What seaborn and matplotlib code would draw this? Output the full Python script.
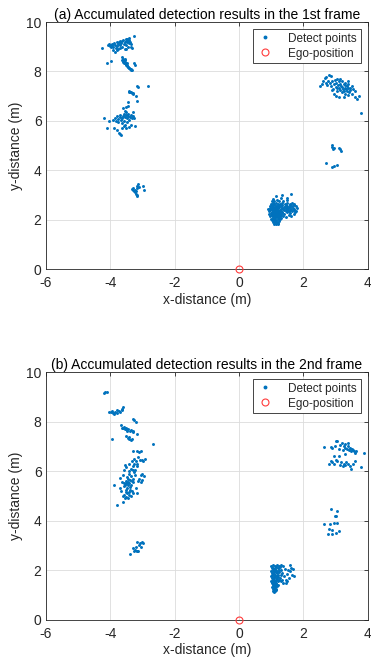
import matplotlib
matplotlib.use("Agg")
import matplotlib.pyplot as plt
import seaborn as sns
import pandas as pd
from matplotlib.lines import Line2D

# ---------------- data: panel (a) ----------------
a_c1 = [(-4.25,8.93),(-3.25,9.42),(-4.05,9.05),(-4.02,9.1),(-3.98,9.0),(-3.95,9.12),(-3.93,9.05),
        (-3.9,8.98),(-3.88,9.15),(-3.85,9.08),(-3.83,8.95),(-3.8,9.2),(-3.78,9.02),(-3.75,9.1),
        (-3.72,9.18),(-3.7,9.25),(-3.68,9.05),(-3.65,9.15),(-3.62,9.22),(-3.6,9.28),(-3.58,9.1),
        (-3.55,9.2),(-3.52,9.3),(-3.5,9.25),(-3.48,9.18),(-3.46,9.32),(-3.44,9.22),(-3.42,9.15),
        (-3.4,9.27),(-3.38,9.2),(-3.36,9.1),(-3.35,9.0),(-3.32,8.95),(-3.9,8.85),(-3.85,8.8),
        (-3.8,8.85),(-3.75,8.9),(-3.7,8.95),(-3.55,8.9),(-3.5,9.05),(-3.45,9.0),(-4.0,9.02),
        (-3.97,9.08),(-3.62,9.0),(-3.4,9.35),(-3.5,8.92)]
a_c2 = [(-3.62,8.58),(-3.6,8.52),(-3.58,8.48),(-3.57,8.42),(-3.55,8.45),(-3.55,8.38),(-3.53,8.35),
        (-3.52,8.3),(-3.5,8.32),(-3.5,8.25),(-3.48,8.28),(-3.46,8.22),(-3.45,8.18),(-3.43,8.2),
        (-3.42,8.15),(-3.4,8.12),(-3.38,8.1),(-3.36,8.08),(-3.35,8.05),(-3.33,8.04),(-3.6,8.4),
        (-3.58,8.35),(-3.54,8.5),(-3.47,8.35),(-3.26,8.36),(-3.24,8.26),(-4.1,8.35),(-3.98,8.44),
        (-3.63,8.46)]
a_c3 = [(-3.42,7.18),(-3.4,7.2),(-3.38,7.16),(-3.36,7.18),(-3.33,7.14),(-3.3,7.12),(-3.28,7.1),
        (-3.15,7.42),(-3.14,7.38),(-2.82,7.42),(-3.2,7.0),(-3.15,6.82),(-3.45,6.78),(-3.5,6.58)]
a_c4 = [(-4.2,6.1),(-4.1,5.72),(-4.02,5.98),(-3.88,5.72),(-3.78,5.62),(-3.72,5.52),(-3.7,5.48),
        (-3.65,5.45),(-3.9,6.05),(-3.85,6.12),(-3.82,6.0),(-3.8,6.18),(-3.76,6.08),(-3.74,5.95),
        (-3.7,6.15),(-3.68,6.25),(-3.66,6.05),(-3.64,5.9),(-3.62,6.1),(-3.6,6.2),(-3.58,6.3),
        (-3.56,6.0),(-3.55,5.85),(-3.53,6.15),(-3.5,6.25),(-3.5,6.38),(-3.48,6.1),(-3.46,5.95),
        (-3.45,6.3),(-3.43,6.2),(-3.42,5.75),(-3.4,6.05),(-3.38,6.15),(-3.36,6.25),(-3.35,5.85),
        (-3.33,6.1),(-3.3,6.2),(-3.28,6.38),(-3.25,6.12),(-3.22,5.78),(-3.6,6.52),(-3.55,6.42),
        (-3.62,5.72),(-3.58,5.78),(-3.5,5.72),(-3.45,6.62)]
a_c5 = [(-3.32,3.25),(-3.3,3.3),(-3.28,3.22),(-3.26,3.18),(-3.24,3.2),(-3.22,3.12),(-3.2,3.15),
        (-3.19,3.05),(-3.17,3.0),(-3.15,2.97),(-3.16,3.38),(-3.12,3.45),(-3.1,3.32),(-2.97,3.38),
        (-2.96,3.22),(-3.18,3.3)]
a_c6 = [(1.1,1.82),(1.15,1.85),(1.2,1.84),(1.12,1.9),(1.18,1.92),(1.22,1.88),(1.05,1.93),(1.25,1.95),
        (1.0,2.05),(1.03,2.0),(1.07,2.08),(1.1,2.02),(1.13,2.06),(1.16,2.0),(1.2,2.04),(1.24,2.08),
        (1.28,2.02),(1.32,2.06),(1.45,2.1),(1.62,2.15),
        (0.98,2.15),(1.02,2.18),(1.05,2.12),(1.08,2.2),(1.11,2.14),(1.14,2.17),(1.17,2.11),(1.2,2.19),
        (1.23,2.13),(1.27,2.16),(1.3,2.2),(1.36,2.14),(1.55,2.2),(1.7,2.22),
        (0.95,2.25),(1.0,2.28),(1.03,2.22),(1.06,2.3),(1.09,2.24),(1.12,2.27),(1.15,2.22),(1.18,2.29),
        (1.21,2.25),(1.24,2.3),(1.28,2.23),(1.33,2.27),(1.4,2.25),(1.5,2.3),(1.6,2.28),(1.75,2.3),
        (0.93,2.35),(0.98,2.38),(1.02,2.32),(1.05,2.4),(1.08,2.34),(1.11,2.37),(1.14,2.31),(1.17,2.39),
        (1.2,2.35),(1.23,2.33),(1.27,2.4),(1.31,2.36),(1.35,2.32),(1.4,2.38),(1.45,2.34),(1.5,2.4),
        (1.55,2.36),(1.6,2.39),(1.66,2.35),(1.72,2.4),(1.78,2.37),
        (0.9,2.45),(0.96,2.48),(1.0,2.42),(1.04,2.5),(1.07,2.44),(1.1,2.47),(1.13,2.41),(1.16,2.49),
        (1.19,2.43),(1.22,2.46),(1.26,2.5),(1.3,2.44),(1.34,2.48),(1.38,2.42),(1.42,2.5),(1.46,2.45),
        (1.5,2.48),(1.54,2.42),(1.58,2.5),(1.62,2.45),(1.67,2.48),(1.72,2.43),(1.8,2.47),
        (0.97,2.55),(1.02,2.58),(1.06,2.52),(1.1,2.6),(1.14,2.54),(1.18,2.57),(1.22,2.52),(1.26,2.6),
        (1.3,2.55),(1.35,2.58),(1.4,2.53),(1.45,2.6),(1.5,2.56),(1.55,2.53),(1.6,2.6),(1.65,2.55),
        (1.7,2.58),(1.76,2.54),
        (1.0,2.65),(1.05,2.68),(1.1,2.63),(1.15,2.7),(1.2,2.66),(1.28,2.64),(1.35,2.7),(1.42,2.66),
        (1.5,2.68),(1.58,2.63),(1.65,2.7),(1.72,2.65),
        (1.02,2.78),(1.1,2.75),(1.18,2.82),(1.25,2.78),(1.38,2.75),(1.5,2.8),(1.05,2.85),(1.3,2.88),
        (1.5,2.9),(1.35,3.0),(1.62,3.05),(1.15,2.95),
        (1.08,2.26),(1.12,2.33),(1.06,2.36),(1.1,2.42),(1.15,2.45),(1.04,2.18),(1.09,2.1),(1.13,2.24),
        (1.16,2.34),(1.19,2.2),(1.07,2.0),(1.11,1.96),(1.14,2.52),(1.02,2.44),(1.2,2.4)]
a_c7 = [(2.52,7.41),(2.58,7.5),(2.62,7.6),(2.68,7.72),(2.72,7.78),(2.8,7.85),(2.85,7.82),(2.7,7.55),
        (2.75,7.45),(2.78,7.62),(2.82,7.52),(2.85,7.4),(2.9,7.6),(2.92,7.3),(2.95,7.48),(2.98,7.65),
        (3.0,7.38),(3.02,7.55),(3.05,7.2),(3.05,7.7),(3.08,7.45),(3.1,7.32),(3.12,7.6),(3.15,7.25),
        (3.15,7.5),(3.18,7.4),(3.2,7.15),(3.2,7.62),(3.22,7.3),(3.25,7.48),(3.25,7.22),(3.28,7.35),
        (3.3,7.55),(3.3,7.1),(3.32,7.28),(3.35,7.42),(3.35,7.2),(3.38,7.32),(3.4,7.5),(3.42,7.15),
        (3.45,7.35),(3.45,7.25),(3.5,7.4),(3.5,7.1),(3.55,7.3),(3.6,7.2),(3.62,6.95),(3.68,6.9),
        (3.72,7.0),(3.1,6.95),(3.0,7.0),(2.95,7.1),(3.25,6.95),(3.4,7.6),(3.15,7.7),(2.88,7.25),
        (3.05,7.35),(3.28,7.45),(3.38,7.05),(3.2,7.38),(3.78,6.33)]
a_c8 = [(2.88,5.02),(2.9,4.95),(2.93,4.88),(2.95,4.92),(3.1,4.9),(3.14,4.85),(3.17,4.8),
        (2.7,4.3),(2.9,4.15),(2.95,4.18),(3.05,4.22)]

# ---------------- data: panel (b) ----------------
b_c1 = [(-4.15,9.18),(-4.1,9.2),(-4.19,9.16)]
b_c2 = [(-4.02,8.4),(-3.98,8.38),(-3.95,8.42),(-3.9,8.35),(-3.85,8.4),(-3.8,8.45),(-3.78,8.35),
        (-3.72,8.42),(-3.68,8.38),(-3.62,8.48),(-3.6,8.6),(-3.62,8.52),(-3.88,8.3)]
b_c3 = [(-3.65,7.85),(-3.62,7.75),(-3.6,7.72),(-3.58,7.78),(-3.55,7.7),(-3.52,7.68),(-3.5,7.75),
        (-3.48,7.62),(-3.45,7.7),(-3.38,7.6),(-3.35,7.65),(-3.3,7.58),(-3.28,8.12),(-3.25,8.05),
        (-3.2,7.98),(-3.15,7.5),(-3.5,7.4),(-3.45,7.35),(-3.42,7.3),(-3.4,7.38),(-3.35,7.25),
        (-3.32,7.3),(-3.95,7.28),(-3.3,7.6)]
b_c4 = [(-3.88,5.45),(-3.78,4.65),(-3.7,5.3),(-3.68,5.72),(-3.65,5.2),(-3.62,5.55),(-3.6,4.75),
        (-3.6,5.85),(-3.58,5.05),(-3.56,5.4),(-3.55,4.9),(-3.55,6.25),(-3.52,5.6),(-3.5,4.95),
        (-3.5,5.5),(-3.5,6.15),(-3.48,5.3),(-3.47,5.75),(-3.45,4.9),(-3.45,5.45),(-3.44,5.55),
        (-3.42,5.15),(-3.42,6.0),(-3.4,5.5),(-3.4,5.9),(-3.4,6.3),(-3.38,5.25),(-3.38,5.65),
        (-3.36,5.0),(-3.35,5.45),(-3.35,6.1),(-3.34,5.8),(-3.32,5.2),(-3.32,6.4),(-3.3,5.55),
        (-3.3,6.2),(-3.3,6.8),(-3.28,5.1),(-3.28,5.7),(-3.27,6.3),(-3.25,5.95),(-3.25,6.5),
        (-3.22,6.05),(-3.2,5.3),(-3.2,6.4),(-3.18,6.2),(-3.15,5.1),(-3.15,6.3),(-3.15,6.8),
        (-3.12,5.6),(-3.12,6.55),(-3.1,5.7),(-3.1,6.78),(-3.08,6.45),(-3.05,5.55),(-3.05,5.85),
        (-3.05,6.8),(-3.02,5.65),(-3.0,5.9),(-3.0,6.45),(-2.98,6.4),(-2.95,5.8),(-2.92,6.5),
        (-2.68,7.08),(-3.6,5.0),(-3.58,5.5),(-3.54,5.45),(-3.46,5.5),(-3.52,5.15),(-3.4,5.05),
        (-3.37,5.35),(-3.43,5.7),(-3.5,5.25),(-3.33,5.6),(-3.47,5.1),(-3.28,6.05),(-3.22,5.85),
        (-3.58,6.05)]
b_c5 = [(-3.38,2.65),(-3.28,2.9),(-3.22,2.8),(-3.2,2.95),(-3.18,2.78),(-3.15,3.15),(-3.12,2.78),
        (-3.1,3.0),(-3.08,3.1),(-3.05,2.95),(-3.02,3.12),(-2.98,3.1),(-3.15,2.78),(-3.25,2.78)]
b_c6 = [(1.1,1.1),(1.12,1.15),(1.08,1.2),(1.14,1.18),(1.06,1.25),(1.1,1.28),(1.15,1.25),(1.03,1.32),
        (1.08,1.35),(1.12,1.32),(1.17,1.36),(1.05,1.4),(1.1,1.42),(1.14,1.45),(1.2,1.4),(1.02,1.48),
        (1.07,1.5),(1.12,1.52),(1.16,1.5),(1.22,1.55),(1.0,1.58),(1.05,1.6),(1.09,1.62),(1.13,1.58),
        (1.18,1.64),(1.25,1.6),(1.02,1.68),(1.06,1.7),(1.1,1.72),(1.15,1.68),(1.2,1.72),(1.27,1.7),
        (1.0,1.78),(1.04,1.8),(1.08,1.76),(1.12,1.82),(1.17,1.78),(1.22,1.82),(1.3,1.8),(1.02,1.88),
        (1.06,1.9),(1.1,1.86),(1.14,1.92),(1.19,1.88),(1.25,1.92),(1.0,1.98),(1.05,2.0),(1.09,1.96),
        (1.13,2.02),(1.18,1.98),(1.24,2.02),(1.3,2.0),(1.02,2.08),(1.07,2.1),(1.11,2.06),(1.16,2.12),
        (1.21,2.08),(1.27,2.12),(1.0,2.18),(1.05,2.2),(1.12,2.16),(1.18,2.2),(1.25,2.18),(1.08,1.45),
        (1.1,1.55),(1.07,1.65),(1.11,1.75),(1.08,1.85),(1.12,1.95),(1.09,2.05),(1.06,1.15),(1.13,1.38),
        (1.04,1.52),(1.16,1.62),
        (1.3,1.55),(1.35,1.62),(1.38,1.5),(1.4,1.75),(1.45,1.6),(1.48,1.85),(1.5,1.55),(1.52,2.0),
        (1.55,1.7),(1.58,2.2),(1.6,1.95),(1.62,2.1),(1.65,1.82),(1.68,2.05),(1.7,1.75),(1.35,1.9),
        (1.42,2.05),(1.3,2.2),(1.38,2.15),(1.45,1.5)]
b_c7 = [(2.64,6.98),(2.85,6.98),(2.9,6.95),(2.95,6.6),(2.98,7.0),(3.0,7.22),(3.05,7.2),(3.1,6.9),
        (3.15,7.05),(3.2,7.15),(3.22,6.85),(3.25,7.0),(3.28,6.95),(3.3,7.1),(3.35,6.9),(3.38,7.15),
        (3.4,7.0),(3.42,6.85),(3.45,6.95),(3.48,6.8),(3.5,6.9),(3.55,6.85),(3.58,6.8),(3.6,6.75),
        (3.65,6.8),(3.9,6.72),(2.8,6.3),(2.85,6.4),(2.9,6.35),(2.95,6.3),(3.0,6.45),(3.05,6.4),
        (3.15,6.25),(3.18,6.35),(3.22,6.2),(3.25,6.3),(3.3,6.25),(3.32,6.35),(3.38,6.3),(3.45,6.22),
        (3.48,6.1),(3.55,6.3),(3.6,6.4),(3.8,6.18),(3.3,6.7),(3.12,6.6)]
b_c8 = [(2.85,4.45),(3.05,4.38),(2.98,4.18),(3.02,4.2),(2.65,3.85),(2.82,3.85),(2.95,3.9),
        (3.05,3.92),(2.8,3.65),(2.88,3.62),(3.1,3.6),(2.78,3.45),(2.88,3.45),(3.02,3.5)]

panel_a = [a_c1, a_c2, a_c3, a_c4, a_c5, a_c6, a_c7, a_c8]
panel_b = [b_c1, b_c2, b_c3, b_c4, b_c5, b_c6, b_c7, b_c8]
titles = ["(a) Accumulated detection results in the 1st frame",
          "(b) Accumulated detection results in the 2nd frame"]
ego_x, ego_y = [0.0], [0.0]
x_ticks = [-6, -4, -2, 0, 2, 4]
y_ticks = [0, 2, 4, 6, 8, 10]
legend_labels = ["Detect points", "Ego-position"]

# ---------------- styling ----------------
sns.set_theme(style="white")
plt.rcParams['font.family'] = ['Liberation Sans', 'DejaVu Sans']
plt.rcParams['axes.unicode_minus'] = False

BLUE = "#0072BD"
AX_COL = "#262626"
W, H = 371, 661
fig = plt.figure(figsize=(W/100, H/100), dpi=100)
positions = [[45.7/W, 1-269.3/H, 322/W, 247.3/H],
             [45.7/W, 1-619.7/H, 322/W, 247.7/H]]

for pos, clusters, title in zip(positions, [panel_a, panel_b], titles):
    ax = fig.add_axes(pos)
    pts = [p for c in clusters for p in c]
    df = pd.DataFrame(pts, columns=["x", "y"])
    sns.scatterplot(data=df, x="x", y="y", ax=ax, color=BLUE, s=4.5,
                    linewidth=0, marker="o", zorder=3, legend=False)
    ax.plot(ego_x, ego_y, "o", mfc="none", mec="#ff3b3b", ms=5, mew=0.8, zorder=4,
            clip_on=False)
    ax.set_xlim(-6, 4)
    ax.set_ylim(0, 10)
    ax.set_xticks(x_ticks)
    ax.set_yticks(y_ticks)
    ax.grid(True, color="#dcdcdc", lw=0.6, zorder=0)
    ax.set_axisbelow(True)
    for sp in ax.spines.values():
        sp.set_color(AX_COL)
        sp.set_linewidth(0.6)
    ax.tick_params(direction="in", length=3, width=0.6, colors=AX_COL,
                   labelsize=10, top=True, right=True)
    ax.tick_params(axis="x", pad=5)
    ax.tick_params(axis="y", pad=3)
    ax.set_xlabel("x-distance (m)", fontsize=10, color=AX_COL, labelpad=2)
    ax.set_ylabel("y-distance (m)", fontsize=10, color=AX_COL, labelpad=2)
    ax.set_title(title, fontsize=10, color="black", pad=2.5)
    handles = [Line2D([], [], ls="none", marker="o", ms=1.8, color=BLUE),
               Line2D([], [], ls="none", marker="o", ms=5, mfc="none", mec="#ff3b3b", mew=0.8)]
    leg = ax.legend(handles, legend_labels, loc="upper right", fontsize=8.5,
                    frameon=True, fancybox=False, edgecolor=AX_COL, framealpha=1,
                    borderpad=0.3, handletextpad=1.2, handlelength=1.5,
                    labelspacing=0.25, borderaxespad=0.6)
    leg.get_frame().set_linewidth(0.6)

fig.savefig("out.png", dpi=100)
